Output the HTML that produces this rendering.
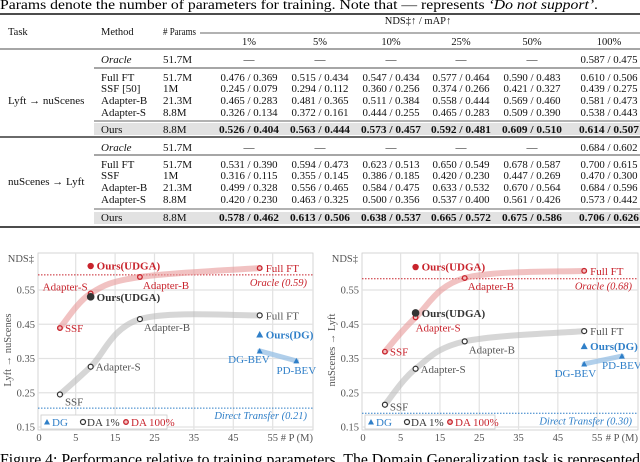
<!DOCTYPE html>
<html><head><meta charset="utf-8"><style>
html,body{margin:0;padding:0;background:#fff;}
svg{display:block;font-family:"Liberation Serif",serif;}
</style></head><body>
<svg id="root" width="640" height="462" viewBox="0 0 640 462" xmlns="http://www.w3.org/2000/svg">
<text x="0" y="9" font-size="14" textLength="598" lengthAdjust="spacingAndGlyphs">Params denote the number of parameters for training. Note that — represents <tspan font-style="italic">‘Do not support’</tspan>.</text>
<g id="table"></g>
<g id="chart1"></g>
<g id="chart2"></g>
<text x="0" y="465" font-size="17" textLength="640" lengthAdjust="spacingAndGlyphs">Figure 4: Performance relative to training parameters. The Domain Generalization task is represented</text>
</svg>
<script>
const NS="http://www.w3.org/2000/svg";
function mk(parent,tag,attrs,txt){const e=document.createElementNS(NS,tag);for(const k in attrs)e.setAttribute(k,attrs[k]);if(txt!==undefined)e.textContent=txt;parent.appendChild(e);return e;}

// ---------- TABLE ----------
const colCenters=[249,320,391,461,532,609];
const colHeads=["1%","5%","10%","25%","50%","100%"];
const rowsA=[
 ["Full FT","51.7M",["0.476 / 0.369","0.515 / 0.434","0.547 / 0.434","0.577 / 0.464","0.590 / 0.483","0.610 / 0.506"]],
 ["SSF [50]","1M",["0.245 / 0.079","0.294 / 0.112","0.360 / 0.256","0.374 / 0.266","0.421 / 0.327","0.439 / 0.275"]],
 ["Adapter-B","21.3M",["0.465 / 0.283","0.481 / 0.365","0.511 / 0.384","0.558 / 0.444","0.569 / 0.460","0.581 / 0.473"]],
 ["Adapter-S","8.8M",["0.326 / 0.134","0.372 / 0.161","0.444 / 0.255","0.465 / 0.283","0.509 / 0.390","0.538 / 0.443"]]];
const oursA=["0.526 / 0.404","0.563 / 0.444","0.573 / 0.457","0.592 / 0.481","0.609 / 0.510","0.614 / 0.507"];
const rowsB=[
 ["Full FT","51.7M",["0.531 / 0.390","0.594 / 0.473","0.623 / 0.513","0.650 / 0.549","0.678 / 0.587","0.700 / 0.615"]],
 ["SSF","1M",["0.316 / 0.115","0.355 / 0.145","0.386 / 0.185","0.420 / 0.230","0.447 / 0.269","0.470 / 0.300"]],
 ["Adapter-B","21.3M",["0.499 / 0.328","0.556 / 0.465","0.584 / 0.475","0.633 / 0.532","0.670 / 0.564","0.684 / 0.596"]],
 ["Adapter-S","8.8M",["0.420 / 0.230","0.463 / 0.325","0.500 / 0.356","0.537 / 0.400","0.561 / 0.426","0.573 / 0.442"]]];
const oursB=["0.578 / 0.462","0.613 / 0.506","0.638 / 0.537","0.665 / 0.572","0.675 / 0.586","0.706 / 0.626"];
const oracleA="0.587 / 0.475", oracleB="0.684 / 0.602";

const T=document.getElementById('table');
const FS=11;
function cell(x,y,t,o){o=o||{};const a={x:x,y:y,"font-size":o.fs||FS,fill:"#111"};if(o.anchor)a["text-anchor"]=o.anchor;if(o.bold)a["font-weight"]="bold";if(o.italic)a["font-style"]="italic";if(o.len){a.textLength=o.len;a.lengthAdjust="spacingAndGlyphs";}const e=mk(T,"text",a,t);


return e;}
function rule(y,x1,w,c){const e=mk(T,"line",{x1:x1,x2:640,y1:y,y2:y,stroke:c||"#111","stroke-width":w});

}
[[123,135],[212,224]].forEach(r=>{const e=mk(T,"rect",{x:94,y:r[0],width:546,height:r[1]-r[0],fill:"#e2e2e2"});

});
rule(14,0,1.6);rule(49,0,0.8);rule(68,94,0.7);rule(121,94,1.6,"#999");rule(137,0,1.2);rule(155,94,0.7);rule(209,94,1.6,"#999");rule(227,0,1.6);
mk(T,"line",{x1:200,x2:640,y1:33,y2:33,stroke:"#333","stroke-width":0.7});
cell(8,35,"Task",{fs:10.5});cell(101,35,"Method",{fs:10.5});cell(163,35,"# Params",{fs:10.5,len:33});
cell(418,24,"NDS‡↑ / mAP↑",{anchor:"middle",fs:10.5});
colHeads.forEach((h,i)=>cell(colCenters[i],45,h,{anchor:"middle",fs:10.5}));
function block(yOr,ys,rows,ours,yOurs,oracle,task,yTask){
 cell(101,yOr,"Oracle",{italic:true});cell(163,yOr,"51.7M");
 for(let i=0;i<5;i++)cell(colCenters[i],yOr,"—",{anchor:"middle"});
 cell(colCenters[5],yOr,oracle,{anchor:"middle",len:57});
 rows.forEach((r,j)=>{cell(101,ys[j],r[0]);cell(163,ys[j],r[1]);r[2].forEach((v,i)=>cell(colCenters[i],ys[j],v,{anchor:"middle",len:57}));});
 cell(101,yOurs,"Ours");cell(163,yOurs,"8.8M");
 ours.forEach((v,i)=>cell(colCenters[i],yOurs,v,{anchor:"middle",bold:true,len:60}));
 cell(8,yTask,task);
}
block(63,[81,92,104,116],rowsA,oursA,133,oracleA,"Lyft → nuScenes",104);
block(151,[168,179,191,203],rowsB,oursB,221,oracleB,"nuScenes → Lyft",185);

// ---------- CHART DATA ----------
const yTicks=[0.15,0.25,0.35,0.45,0.55];
const xTicks=[5,15,25,35,45,55];
const namesDA=["SSF","Adapter-S","Adapter-B","Full FT"];
const paramsDA=[1,8.8,21.3,51.7];
// chart 1 (Lyft -> nuScenes)
const c1Gray=[0.245,0.326,0.465,0.476];
const c1RedX=[1,8.8,21.3,51.7];
const c1Red=[0.439,0.540,0.588,0.614];
const c1OursUDGA=[8.8,0.620];
const c1OursDark=[8.8,0.530];
const c1DGx=[51.7,61];
const c1DG=[0.372,0.343];
const c1OursDG=[51.7,0.420];
const c1Oracle=0.594, c1Direct=0.205;
// chart 2 (nuScenes -> Lyft)
const c2Gray=[0.215,0.320,0.400,0.430];
const c2RedX=[1,8.8,21.3,51.7];
const c2Red=[0.370,0.470,0.585,0.606];
const c2OursUDGA=[8.8,0.617];
const c2OursDark=[8.8,0.483];
const c2DGx=[51.7,61.3];
const c2DG=[0.334,0.357];
const c2OursDG=[51.7,0.386];
const c2Oracle=0.583, c2Direct=0.19;

const RED="#c8232c",BLUE="#2f7fc8",DARK="#333",GRAYT="#555";

function smooth(pts){let d="M"+pts[0][0]+","+pts[0][1];for(let i=0;i<pts.length-1;i++){const p0=pts[Math.max(0,i-1)],p1=pts[i],p2=pts[i+1],p3=pts[Math.min(pts.length-1,i+2)];
const c1=[p1[0]+(p2[0]-p0[0])/6,p1[1]+(p2[1]-p0[1])/6],c2=[p2[0]-(p3[0]-p1[0])/6,p2[1]-(p3[1]-p1[1])/6];d+=" C"+c1+" "+c2+" "+p2;}return d;}

function chart(g,o){
 const X=v=>o.x0+o.sx*v, Y=v=>290-(v-0.55)*342.5;
 const L=o.left,R=o.right,Tp=253,B=430;
 const fr=mk(g,"rect",{x:L,y:Tp,width:R-L,height:B-Tp,fill:"#fff",stroke:"#ccc","stroke-width":0.8});
 
 
 o.xTicks.forEach(v=>{const e=mk(g,"line",{x1:X(v),x2:X(v),y1:Tp,y2:B,stroke:"#e2e2e2","stroke-width":1.2});
 
 
 const t=mk(g,"text",{x:X(v),y:441,"font-size":10.5,fill:GRAYT,"text-anchor":"middle"},String(v));
 
 });
 const z=mk(g,"text",{x:L+1,y:441,"font-size":10.5,fill:GRAYT,"text-anchor":"middle"},"0");
 
 
 const xl=mk(g,"text",{x:R,y:441,"font-size":10.5,fill:GRAYT,"text-anchor":"end"},"# P (M)");
 
 
 o.yTicks.forEach(v=>{const e=mk(g,"line",{x1:L,x2:R,y1:Y(v),y2:Y(v),stroke:"#e2e2e2","stroke-width":1.2});
 
 
 const t=mk(g,"text",{x:L-3,y:Y(v)+3.5,"font-size":10.5,fill:GRAYT,"text-anchor":"end"},v.toFixed(2));
 
 });
 const nd=mk(g,"text",{x:L-4,y:262,"font-size":10.5,fill:GRAYT,"text-anchor":"end"},"NDS‡");
 
 
 const yt=mk(g,"text",{x:0,y:0,"font-size":10.5,fill:GRAYT,"text-anchor":"middle",transform:`translate(${L-27},350) rotate(-90)`},o.ytitle);
 
 
 const ol=mk(g,"line",{x1:L,x2:R,y1:Y(o.oracle),y2:Y(o.oracle),stroke:RED,"stroke-width":1,"stroke-dasharray":"1.5,1.5"});
 
 
 const otx=mk(g,"text",{x:R-6,y:Y(o.oracle)+11,"font-size":10.5,fill:RED,"font-style":"italic","text-anchor":"end"},o.oracleLabel);
 
 
 const dl=mk(g,"line",{x1:L,x2:R,y1:Y(o.direct),y2:Y(o.direct),stroke:BLUE,"stroke-width":1,"stroke-dasharray":"1.5,1.5"});
 
 
 const dtx=mk(g,"text",{x:R-6,y:Y(o.direct)+11,"font-size":10.5,fill:BLUE,"font-style":"italic","text-anchor":"end"},o.directLabel);
 
 
 const gp=paramsDA.map((p,i)=>[X(p),Y(o.gray[i])]);
 const gc=mk(g,"path",{d:smooth(gp),fill:"none",stroke:"#bbb","stroke-opacity":0.6,"stroke-width":6,"stroke-linecap":"round"});
 
 
 const rp=o.redX.map((p,i)=>[X(p),Y(o.red[i])]);
 const rc=mk(g,"path",{d:smooth(rp),fill:"none",stroke:"#e89a9a","stroke-opacity":0.6,"stroke-width":6,"stroke-linecap":"round"});
 
 
 const bc=mk(g,"line",{x1:X(o.dgx[0]),y1:Y(o.dg[0]),x2:X(o.dgx[1]),y2:Y(o.dg[1]),stroke:"#9cc3e6","stroke-opacity":0.8,"stroke-width":5,"stroke-linecap":"round"});
 
 
 paramsDA.forEach((p,i)=>{const c=mk(g,"circle",{cx:X(p),cy:Y(o.gray[i]),r:2.5,fill:"#fff",stroke:DARK,"stroke-width":1.2});
 
 
 const l=o.grayLbl[i];const t=mk(g,"text",{x:X(p)+l[0],y:Y(o.gray[i])+l[1],"font-size":11,fill:GRAYT,"text-anchor":l[2]||"start"},namesDA[i]);
 
 });
 o.redX.forEach((p,i)=>{const c=mk(g,"circle",{cx:X(p),cy:Y(o.red[i]),r:2.3,fill:"#f3c0c0",stroke:RED,"stroke-width":1.3});
 
 
 const l=o.redLbl[i];const t=mk(g,"text",{x:X(p)+l[0],y:Y(o.red[i])+l[1],"font-size":11,fill:RED,"text-anchor":l[2]||"start"},namesDA[i]);
 
 });
 const ou=mk(g,"circle",{cx:X(o.oursU[0]),cy:Y(o.oursU[1]),r:3.2,fill:RED});
 
 
 const out=mk(g,"text",{x:X(o.oursU[0])+6,y:Y(o.oursU[1])+3.5,"font-size":11,"font-weight":"bold",fill:RED},"Ours(UDGA)");
 
 
 const od=mk(g,"circle",{cx:X(o.oursD[0]),cy:Y(o.oursD[1]),r:3.8,fill:DARK});
 
 
 const odt=mk(g,"text",{x:X(o.oursD[0])+6,y:Y(o.oursD[1])+4,"font-size":11,"font-weight":"bold",fill:DARK},"Ours(UDGA)");
 
 
 const dgNames=["DG-BEV","PD-BEV"];
 o.dgx.forEach((p,i)=>{const x=X(p),y=Y(o.dg[i]);const tr=mk(g,"path",{d:`M${x},${y-3} L${x+3},${y+2.5} L${x-3},${y+2.5}Z`,fill:BLUE});
 
 
 const l=o.dgLbl[i];const t=mk(g,"text",{x:x+l[0],y:y+l[1],"font-size":11,fill:BLUE,"text-anchor":l[2]},dgNames[i]);
 
 });
 {const x=X(o.oursDG[0]),y=Y(o.oursDG[1]);const tr=mk(g,"path",{d:`M${x},${y-3.5} L${x+3.5},${y+3} L${x-3.5},${y+3}Z`,fill:BLUE});
 
 
 const t=mk(g,"text",{x:x+6,y:y+4,"font-size":11,"font-weight":"bold",fill:BLUE},"Ours(DG)");
 
 }
 const lg=mk(g,"rect",{x:L+3,y:415,width:o.legW,height:14,fill:"#fff",stroke:"#ccc","stroke-width":0.8});
 
 
 const a=L+9;
 const l1=mk(g,"path",{d:`M${a},${419} L${a+3},${424.5} L${a-3},${424.5}Z`,fill:BLUE});
 
 
 const t1=mk(g,"text",{x:a+5,y:426,"font-size":11,fill:BLUE},"DG");
 
 
 const l2=mk(g,"circle",{cx:a+36,cy:422,r:2.5,fill:"#fff",stroke:DARK,"stroke-width":1.2});
 
 
 const t2=mk(g,"text",{x:a+40,y:426,"font-size":11,fill:DARK},"DA 1%");
 
 
 const l3=mk(g,"circle",{cx:a+79,cy:422,r:2.3,fill:"#f3c0c0",stroke:RED,"stroke-width":1.3});
 
 
 const t3=mk(g,"text",{x:a+84,y:426,"font-size":11,fill:RED},"DA 100%");
 
 
}
chart(document.getElementById('chart1'),{x0:56,sx:3.94,left:38,right:313,xTicks:xTicks,yTicks:yTicks,ytitle:"Lyft → nuScenes",
 gray:c1Gray,redX:c1RedX,red:c1Red,oursU:c1OursUDGA,oursD:c1OursDark,dgx:c1DGx,dg:c1DG,oursDG:c1OursDG,oracle:c1Oracle,direct:c1Direct,
 oracleLabel:"Oracle (0.59)",directLabel:"Direct Transfer (0.21)",legW:126,
 grayLbl:[[5,11],[5,4],[4,12],[6,4]],redLbl:[[5,4],[-3,-3,"end"],[3,12],[6,4]],dgLbl:[[10,12,"end"],[0,13,"middle"]]});
chart(document.getElementById('chart2'),{x0:381,sx:3.93,left:362,right:638,xTicks:xTicks,yTicks:yTicks,ytitle:"nuScenes → Lyft",
 gray:c2Gray,redX:c2RedX,red:c2Red,oursU:c2OursUDGA,oursD:c2OursDark,dgx:c2DGx,dg:c2DG,oursDG:c2OursDG,oracle:c2Oracle,direct:c2Direct,
 oracleLabel:"Oracle (0.68)",directLabel:"Direct Transfer (0.30)",legW:130,
 grayLbl:[[5,6],[5,4],[4,12],[6,4]],redLbl:[[5,4],[0,14],[3,12],[6,4]],dgLbl:[[12,13,"end"],[0,13,"middle"]]});
</script>
</body></html>
